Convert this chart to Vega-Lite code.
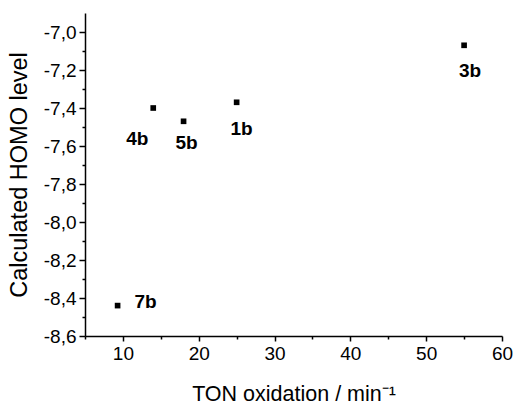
{
  "$schema": "https://vega.github.io/schema/vega-lite/v6.json",
  "width": 417,
  "height": 323,
  "autosize": "none",
  "padding": {"left": 85, "top": 13, "right": 13, "bottom": 70},
  "background": "white",
  "config": {
    "view": {"stroke": null},
    "font": "Liberation Sans",
    "locale": {"number": {"decimal": ",", "thousands": ".", "grouping": [3], "currency": ["", ""], "minus": "-"}},
    "axis": {
      "grid": false,
      "domainColor": "black",
      "domainWidth": 1.5,
      "tickColor": "black",
      "tickWidth": 1.5,
      "labelColor": "black",
      "titleColor": "black",
      "labelFont": "Liberation Sans",
      "titleFont": "Liberation Sans",
      "labelFontSize": 19,
      "titleFontSize": 23,
      "titleFontWeight": "normal",
      "labelFlush": false,
      "labelOverlap": false
    }
  },
  "data": {
    "values": [
      {"ton": 55, "homo": -7.07, "name": "3b"},
      {"ton": 14, "homo": -7.40, "name": "4b"},
      {"ton": 18, "homo": -7.47, "name": "5b"},
      {"ton": 25, "homo": -7.37, "name": "1b"},
      {"ton": 9.3, "homo": -8.44, "name": "7b"}
    ]
  },
  "encoding": {
    "x": {
      "field": "ton", "type": "quantitative",
      "scale": {"domain": [5, 60], "nice": false, "zero": false},
      "axis": {
        "title": "TON oxidation / min⁻¹",
        "titleFontSize": 21.5,
        "values": [5, 10, 15, 20, 25, 30, 35, 40, 45, 50, 55, 60],
        "labelExpr": "datum.value % 10 == 0 ? datum.label : ''",
        "tickSize": {"condition": {"test": "datum.value % 10 == 0", "value": 5}, "value": 3},
        "labelPadding": 3,
        "titlePadding": 20
      }
    },
    "y": {
      "field": "homo", "type": "quantitative",
      "scale": {"domain": [-8.6, -6.9], "nice": false, "zero": false},
      "axis": {
        "title": "Calculated HOMO level",
        "titleFontSize": 23.5,
        "format": ".1f",
        "values": [-8.6, -8.5, -8.4, -8.3, -8.2, -8.1, -8.0, -7.9, -7.8, -7.7, -7.6, -7.5, -7.4, -7.3, -7.2, -7.1, -7.0],
        "labelExpr": "abs(round(datum.value * 10)) % 2 == 0 ? datum.label : ''",
        "tickSize": {"condition": {"test": "abs(round(datum.value * 10)) % 2 == 0", "value": 6}, "value": 3},
        "labelPadding": 3,
        "titlePadding": 12
      }
    }
  },
  "layer": [
    {"mark": {"type": "point", "shape": "square", "filled": true, "color": "black", "opacity": 1, "size": 32}},
    {"transform": [{"filter": "datum.name == '3b'"}], "mark": {"type": "text", "fontSize": 19, "fontWeight": "bold", "color": "black", "baseline": "middle", "align": "center", "dx": 6, "dy": 26}, "encoding": {"text": {"field": "name"}}},
    {"transform": [{"filter": "datum.name == '4b'"}], "mark": {"type": "text", "fontSize": 19, "fontWeight": "bold", "color": "black", "baseline": "middle", "align": "center", "dx": -16, "dy": 31}, "encoding": {"text": {"field": "name"}}},
    {"transform": [{"filter": "datum.name == '5b'"}], "mark": {"type": "text", "fontSize": 19, "fontWeight": "bold", "color": "black", "baseline": "middle", "align": "center", "dx": 3, "dy": 22}, "encoding": {"text": {"field": "name"}}},
    {"transform": [{"filter": "datum.name == '1b'"}], "mark": {"type": "text", "fontSize": 19, "fontWeight": "bold", "color": "black", "baseline": "middle", "align": "center", "dx": 5, "dy": 27}, "encoding": {"text": {"field": "name"}}},
    {"transform": [{"filter": "datum.name == '7b'"}], "mark": {"type": "text", "fontSize": 19, "fontWeight": "bold", "color": "black", "baseline": "middle", "align": "center", "dx": 28, "dy": -4}, "encoding": {"text": {"field": "name"}}}
  ]
}
